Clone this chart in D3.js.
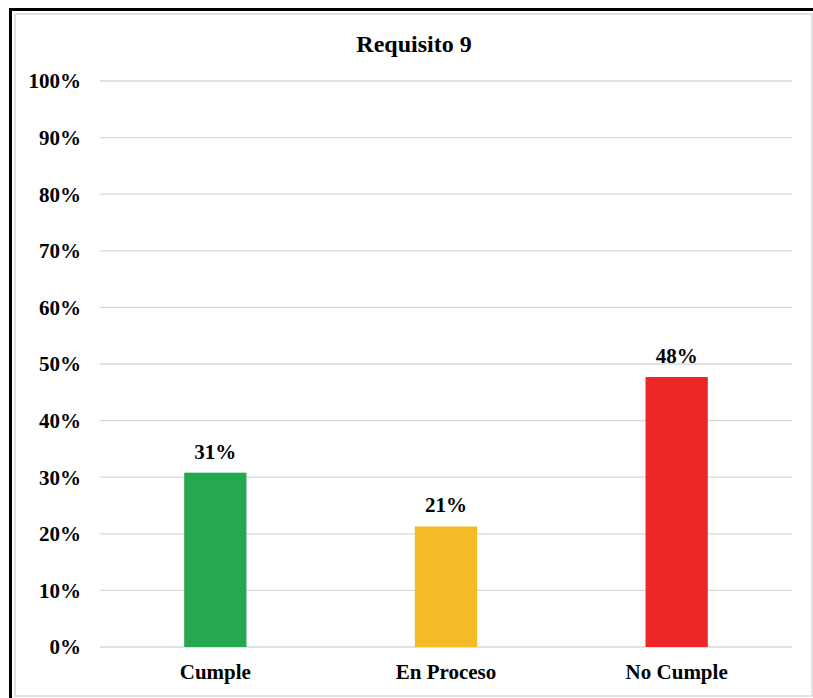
<!DOCTYPE html>
<html>
<head>
<meta charset="utf-8">
<script src="https://cdn.jsdelivr.net/npm/d3@7"></script>
<style>
  html, body { margin: 0; padding: 0; background: #fff; }
  svg { display: block; }
  text { font-family: "Liberation Serif", "Times New Roman", serif; font-weight: bold; fill: #000; }
</style>
</head>
<body>
<svg id="chart" width="813" height="698"></svg>
<script>
const title = "Requisito 9";
const categories = ["Cumple", "En Proceso", "No Cumple"];
const values = [0.308, 0.213, 0.477];
const colors = ["#26a84f", "#f3bc26", "#ed2628"];
const yTicks = [0, 0.1, 0.2, 0.3, 0.4, 0.5, 0.6, 0.7, 0.8, 0.9, 1.0];

const svg = d3.select("#chart");
const W = 813, H = 698;

// outer frame: thick black top & left, light inner border
svg.append("rect").attr("x", 15).attr("y", 14).attr("width", 797).attr("height", 682)
  .attr("fill", "#fff").attr("stroke", "#d9d9d9").attr("stroke-width", 1.5);
svg.append("rect").attr("x", 9).attr("y", 8).attr("width", W - 9).attr("height", 3).attr("fill", "#000");
svg.append("rect").attr("x", 9).attr("y", 8).attr("width", 3).attr("height", H - 8).attr("fill", "#000");

const plot = { left: 100, right: 792, top: 81, bottom: 647 };

const x = d3.scaleBand().domain(categories).range([plot.left, plot.right]).paddingInner(0.73).paddingOuter(0.365);
const y = d3.scaleLinear().domain([0, 1]).range([plot.bottom, plot.top]);

// gridlines
svg.append("g").selectAll("line").data(yTicks).join("line")
  .attr("x1", plot.left).attr("x2", plot.right)
  .attr("y1", d => y(d)).attr("y2", d => y(d))
  .attr("stroke", "#d9d9d9").attr("stroke-width", 1.3);

// y axis labels
const yAxis = d3.axisLeft(y).tickValues(yTicks).tickFormat(d3.format(".0%")).tickSize(0).tickPadding(19);
const gy = svg.append("g").attr("transform", `translate(${plot.left},0)`).call(yAxis);
gy.select(".domain").remove();
gy.selectAll("text").style("font-size", "21px").attr("dy", "0.33em")
  .style("font-family", '"Liberation Serif", serif').style("font-weight", "bold").attr("fill", "#000");

// x axis labels
const xAxis = d3.axisBottom(x).tickSize(0).tickPadding(17);
const gx = svg.append("g").attr("transform", `translate(0,${plot.bottom})`).call(xAxis);
gx.select(".domain").remove();
gx.selectAll("text").style("font-size", "21px")
  .style("font-family", '"Liberation Serif", serif').style("font-weight", "bold").attr("fill", "#000");

// bars
const data = categories.map((c, i) => ({ c, v: values[i], col: colors[i] }));
svg.append("g").selectAll("rect").data(data).join("rect")
  .attr("x", d => x(d.c)).attr("width", x.bandwidth())
  .attr("y", d => y(d.v)).attr("height", d => y(0) - y(d.v))
  .attr("fill", d => d.col);

// value labels
svg.append("g").selectAll("text").data(data).join("text")
  .attr("x", d => x(d.c) + x.bandwidth() / 2)
  .attr("y", d => y(d.v) - 14)
  .attr("text-anchor", "middle")
  .style("font-size", "21px")
  .text(d => d3.format(".0%")(d.v));

// title
svg.append("text").attr("x", 414).attr("y", 52).attr("text-anchor", "middle")
  .style("font-size", "24px").text(title);
</script>
</body>
</html>
